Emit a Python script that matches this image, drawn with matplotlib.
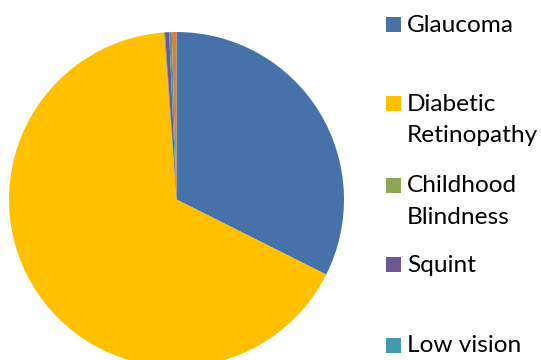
import matplotlib.pyplot as plt
from matplotlib.patches import Rectangle

plt.rcParams['font.family'] = ['Lato', 'DejaVu Sans']

# share of cases per condition (%)
conditions = ['Glaucoma', 'Diabetic\nRetinopathy', 'Childhood\nBlindness',
              'Squint', 'Low vision', 'Others']
shares = [32.4, 66.4, 0.1, 0.4, 0.25, 0.45]
colors = ['#4672A9', '#FFC000', '#8BA751', '#6F5696', '#4299B0', '#DA8137']

W, H = 541, 360
fig = plt.figure(figsize=(W / 100, H / 100), dpi=100)

# pie centre and radius in pixels
cx, cy, r = 176.5, 199.5, 167.5
ax = fig.add_axes([(cx - r) / W, (H - cy - r) / H, 2 * r / W, 2 * r / H])
ax.pie(shares, colors=colors, startangle=90, counterclock=False,
       radius=1, wedgeprops=dict(linewidth=0))
ax.set_xlim(-1, 1)
ax.set_ylim(-1, 1)
ax.set_aspect('equal')
ax.axis('off')

# legend down the right side: baseline of each entry's first line (px from top)
row_base = [32, 111, 192.5, 271.5, 352.5]
line_gap = 31.5
for name, col, yb in zip(conditions, colors, row_base):
    fig.patches.append(Rectangle((386 / W, (H - yb) / H), 15 / W, 15 / H,
                                 transform=fig.transFigure, facecolor=col,
                                 edgecolor='none'))
    for i, line in enumerate(name.split('\n')):
        fig.text(407 / W, (H - yb - i * line_gap) / H, line, fontsize=17.6,
                 va='baseline', ha='left', color='black')

fig.savefig('out.png', dpi=100)
